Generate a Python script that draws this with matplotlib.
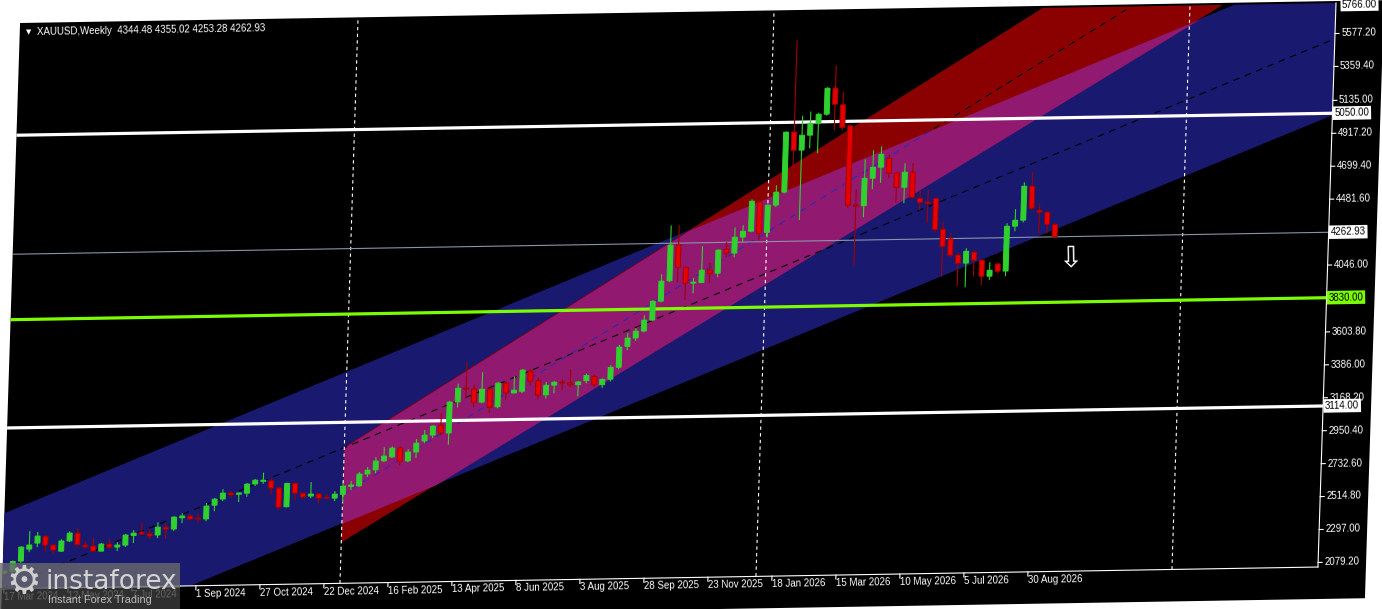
import matplotlib
matplotlib.use("Agg")
import matplotlib.pyplot as plt
import numpy as np
from matplotlib.patches import Polygon, Rectangle
from matplotlib.transforms import Affine2D, blended_transform_factory

plt.rcParams["font.family"] = ["Liberation Sans", "DejaVu Sans"]

# weekly XAUUSD candles, bar 0 = week of 1 Sep 2024
first_bar = -24
opens = [2155, 2165, 2232, 2310, 2349, 2394, 2334, 2293, 2360, 2410,
         2330, 2323, 2289, 2334, 2314, 2326, 2388, 2410, 2397, 2389,
         2440, 2427, 2500, 2511, 2497, 2490, 2580, 2620, 2659, 2650,
         2656, 2716, 2733, 2735, 2687, 2562, 2716, 2650, 2630, 2643,
         2620, 2614, 2638, 2690, 2692, 2770, 2796, 2855, 2880, 2938,
         2852, 2910, 2982, 3020, 3084, 3032, 3237, 3327, 3320, 3233,
         3318, 3200, 3356, 3290, 3300, 3432, 3368, 3274, 3337, 3356,
         3350, 3337, 3363, 3390, 3335, 3370, 3448, 3586, 3640, 3685,
         3757, 3881, 4015, 4250, 4100, 3997, 4000, 4081, 4060, 4217,
         4191, 4296, 4334, 4526, 4325, 4504, 4589, 4985, 4865, 4963,
         5041, 5100, 5271, 5160, 5020, 4495, 4490, 4671, 4743, 4800,
         4702, 4608, 4707, 4533, 4506, 4530, 4326, 4260, 4153, 4099,
         4170, 4117, 4010, 4090, 4042, 4338, 4377, 4601, 4440, 4427, 4344.48]
highs = [2176, 2236, 2330, 2429, 2422, 2396, 2338, 2372, 2423, 2445,
         2357, 2382, 2342, 2367, 2347, 2399, 2424, 2476, 2429, 2474,
         2467, 2510, 2531, 2524, 2529, 2595, 2627, 2685, 2672, 2661,
         2722, 2748, 2790, 2750, 2695, 2720, 2721, 2655, 2722, 2650,
         2641, 2660, 2712, 2724, 2783, 2815, 2880, 2945, 2950, 2950,
         2930, 2995, 3054, 3085, 3164, 3245, 3357, 3500, 3350, 3430,
         3323, 3365, 3365, 3400, 3446, 3445, 3390, 3358, 3365, 3374,
         3439, 3362, 3409, 3400, 3377, 3463, 3596, 3674, 3705, 3790,
         3888, 4058, 4380, 4382, 4110, 4030, 4240, 4127, 4218, 4264,
         4360, 4374, 4545, 4532, 4510, 4635, 4990, 5595, 5092, 5119,
         5110, 5278, 5420, 5243, 5030, 4600, 4797, 4856, 4881, 4827,
         4710, 4766, 4766, 4585, 4591, 4540, 4372, 4300, 4170, 4197,
         4184, 4120, 4102, 4095, 4358, 4450, 4627, 4693, 4487, 4432, 4355.02]
lows = [2146, 2160, 2220, 2290, 2322, 2290, 2277, 2287, 2352, 2320,
        2305, 2285, 2286, 2301, 2287, 2313, 2338, 2392, 2363, 2368,
        2361, 2414, 2465, 2484, 2464, 2475, 2540, 2606, 2625, 2598,
        2632, 2702, 2716, 2645, 2540, 2558, 2605, 2610, 2616, 2582,
        2607, 2594, 2586, 2665, 2685, 2750, 2773, 2846, 2872, 2825,
        2843, 2870, 2967, 3000, 3018, 2955, 3200, 3260, 3200, 3225,
        3160, 3190, 3245, 3285, 3287, 3340, 3245, 3248, 3283, 3305,
        3320, 3260, 3345, 3320, 3312, 3355, 3435, 3560, 3620, 3676,
        3750, 3873, 4005, 4004, 3886, 3930, 3996, 3996, 4033, 4164,
        4163, 4262, 4327, 4273, 4290, 4490, 4580, 4750, 4402, 4876,
        4842, 5090, 4992, 4990, 4475, 4097, 4414, 4598, 4640, 4669,
        4509, 4502, 4534, 4454, 4367, 4306, 4015, 4140, 3947, 3939,
        4011, 3951, 3985, 4029, 4008, 4304, 4362, 4441, 4288, 4288, 4253.28]
closes = [2165, 2230, 2324, 2337, 2395, 2335, 2301, 2360, 2411, 2335,
          2318, 2290, 2335, 2314, 2327, 2392, 2404, 2397, 2383, 2441,
          2427, 2506, 2512, 2491, 2491, 2575, 2620, 2659, 2646, 2658,
          2716, 2741, 2740, 2687, 2560, 2716, 2651, 2625, 2643, 2615,
          2614, 2640, 2692, 2698, 2770, 2795, 2854, 2886, 2938, 2851,
          2910, 2968, 3020, 3079, 3032, 3236, 3327, 3320, 3233, 3318,
          3198, 3356, 3290, 3308, 3440, 3366, 3273, 3337, 3356, 3350,
          3337, 3355, 3397, 3335, 3370, 3448, 3581, 3640, 3685, 3757,
          3881, 4013, 4250, 4103, 3997, 4003, 4081, 4057, 4212, 4191,
          4296, 4334, 4532, 4319, 4504, 4589, 4985, 4865, 4963, 5041,
          5100, 5271, 5165, 5011, 4495, 4487, 4671, 4743, 4828, 4702,
          4608, 4707, 4540, 4507, 4497, 4326, 4213, 4153, 4099, 4177,
          4117, 4010, 4049, 4042, 4338, 4377, 4601, 4455, 4427, 4347, 4262.93]

title = "XAUUSD,Weekly  4344.48 4355.02 4253.28 4262.93"

date_bars = list(range(-24, 105, 8))
date_labels = ["17 Mar 2024", "12 May 2024", "7 Jul 2024", "1 Sep 2024",
               "27 Oct 2024", "22 Dec 2024", "16 Feb 2025", "13 Apr 2025",
               "8 Jun 2025", "3 Aug 2025", "28 Sep 2025", "23 Nov 2025",
               "18 Jan 2026", "15 Mar 2026", "10 May 2026", "5 Jul 2026",
               "30 Aug 2026"]

price_ticks = [5577.20, 5359.40, 5135.00, 4917.20, 4699.40, 4481.60, 4046.00,
               3603.80, 3386.00, 3168.20, 2950.40, 2732.60, 2514.80, 2297.00,
               2079.20]
top_price = 5766.00
levels = [5050.00, 3830.00, 3114.00]
bid = 4262.93
separators = [18, 70, 122]          # yearly period separators
arrow_bar, arrow_price = 108, 4121

# channel borders: bar index at both ends, upper and lower price at both ends
blue_bars = [-24.25, 140.25]
blue_upper = [2550, 6049]
blue_lower = [1550, 5037]
red_bars = [18, 140.25]
red_upper = [2950, 6990]
red_lower = [2320, 6232]

# ---------------------------------------------------------------- layout
W, H = 1382, 609
L, T, PW, PH = 20, 25, 1316, 564      # plot box before the skew (pixels)
fig = plt.figure(figsize=(W / 100, H / 100), dpi=100)
fig.patch.set_facecolor("white")
ax = fig.add_axes([L / W, (H - T - PH) / H, PW / W, PH / H])
ax.set_xlim(-24.25, 140.25)
ax.set_ylim(2049, 5779)
ax.autoscale(False)
ax.axis("off")

# the screenshot is slightly sheared
skew = (Affine2D().translate(-L, -(H - T))
        + Affine2D.from_values(1, 0.0167, 0.032, 1, 0, 0)
        + Affine2D().translate(L, H - T))
td = ax.transData + skew
ta = ax.transAxes + skew
t_right = blended_transform_factory(ax.transAxes, ax.transData) + skew
t_bottom = blended_transform_factory(ax.transData, ax.transAxes) + skew
clip = Polygon([[0, 0], [1, 0], [1, 1], [0, 1]], closed=True, transform=ta)
ROT = 0.96


def put(artists, tr, clipped=True):
    for a in artists:
        a.set_transform(tr)
        if clipped:
            a.set_clip_path(clip)
            a.set_clip_box(None)
        else:
            a.set_clip_on(False)


# black chart window
bg = Polygon([[L, H - T + 2], [L + 1364, H - T + 2], [L + 1364, H - T - 596], [L, H - T - 596]],
             closed=True, facecolor="black", edgecolor="none", zorder=-5)
bg.set_transform(skew)
fig.add_artist(bg)

# channels (XOR-style colours where they overlap)
kb = np.linspace(blue_bars[0], blue_bars[1], 800)
bu = np.interp(kb, blue_bars, blue_upper)
bl = np.interp(kb, blue_bars, blue_lower)
put([ax.fill_between(kb, bl, bu, color="#191970", lw=0, zorder=1)], td)

kr = np.linspace(red_bars[0], red_bars[1], 600)
ru = np.interp(kr, red_bars, red_upper)
rl = np.interp(kr, red_bars, red_lower)
put([ax.fill_between(kr, rl, ru, color="#8b0000", lw=0, zorder=1)], td)
bu_r = np.interp(kr, blue_bars, blue_upper)
bl_r = np.interp(kr, blue_bars, blue_lower)
ov_top = np.minimum(ru, bu_r)
ov_bot = np.maximum(rl, bl_r)
put([ax.fill_between(kr, ov_bot, ov_top, where=ov_top > ov_bot, interpolate=True,
                     color="#921970", lw=0, zorder=1.1)], td)

# dashed centre lines
put(ax.plot(kb, (bu + bl) / 2, color="black", lw=0.8, ls=(0, (6, 5)), zorder=1.5), td)
rc = (ru + rl) / 2
inside = rc < bu_r
put(ax.plot(kr[inside], rc[inside], color="#2a2ab0", lw=0.8, ls=(0, (6, 5)), zorder=1.5), td)
put(ax.plot(kr[~inside], rc[~inside], color="black", lw=0.8, ls=(0, (6, 5)), zorder=1.5), td)

# period separators
for s in separators:
    put(ax.plot([s, s], [0, 1], color="white", lw=0.8, ls=(0, (3, 3)), zorder=2), t_bottom)

# horizontal levels
level_colors = ["white", "#7cfc00", "white"]
for lv, c in zip(levels, level_colors):
    put(ax.plot([0, 1], [lv, lv], color=c, lw=2.3, zorder=2), t_right)
put(ax.plot([0, 1], [bid, bid], color="#8795a8", lw=0.8, zorder=2), t_right)

# candles
o = np.array(opens)
c = np.array(closes)
bars = np.arange(first_bar, first_bar + len(o))
up = c >= o
wick_col = np.where(up, "#2fd12f", "#a40000")
body_col = np.where(up, "#2fd12f", "#e80000")
edge_col = np.where(up, "#2fd12f", "#a40000")
put([ax.vlines(bars, lows, highs, colors=wick_col, lw=0.8, zorder=3)], td)
body = ax.bar(bars, np.abs(c - o), bottom=np.minimum(o, c), width=0.62,
              color=body_col, edgecolor=edge_col, linewidth=0.7, zorder=4)
put(body.patches, td)

# arrow object
ax.text(arrow_bar, arrow_price, "\u21e9", transform=td, color="white", fontsize=21,
        ha="center", va="center", family="DejaVu Sans", rotation=ROT, zorder=5)

# frame lines
put(ax.plot([1, 1], [0, 1], color="white", lw=0.8, zorder=6), ta, clipped=False)
put(ax.plot([0, 1], [0, 0], color="white", lw=0.8, zorder=6), ta, clipped=False)

# price axis
tick_len = 4 / PW
for p in price_ticks:
    put(ax.plot([1, 1 + tick_len], [p, p], color="white", lw=0.8), t_right, clipped=False)
    ax.text(1 + 6 / PW, p, f"{p:.2f}", transform=t_right, color="white", fontsize=7,
            ha="left", va="center", rotation=ROT, rotation_mode="anchor")
ax.text(1 + 6 / PW, top_price, f"{top_price:.2f}", transform=t_right, color="black",
        fontsize=7, ha="left", va="center", rotation=ROT, rotation_mode="anchor",
        bbox=dict(boxstyle="square,pad=0.15", fc="white", ec="none"))
box_colors = ["white", "#7cfc00", "white"]
for lv, bc in zip(levels + [bid], box_colors + ["white"]):
    ax.text(1 + 2 / PW, lv, f"{lv:.2f}", transform=t_right, color="black", fontsize=7,
            ha="left", va="center", rotation=ROT, rotation_mode="anchor", zorder=7,
            bbox=dict(boxstyle="square,pad=0.18", fc=bc, ec="none"))

# time axis
for b, lab in zip(date_bars, date_labels):
    put(ax.plot([b, b], [0, -4 / PH], color="white", lw=0.8), t_bottom, clipped=False)
    ax.text(b, -8 / PH, lab, transform=t_bottom, color="white", fontsize=7,
            ha="left", va="center", rotation=ROT, rotation_mode="anchor")

# title
ax.text(6 / PW, 1 - 7 / PH, "\u25bc", transform=ta, color="white", fontsize=5,
        ha="left", va="center", family="DejaVu Sans", rotation=ROT, rotation_mode="anchor")
ax.text(17 / PW, 1 - 7 / PH, title, transform=ta, color="white", fontsize=7,
        ha="left", va="center", rotation=ROT, rotation_mode="anchor")

# watermark
fig.add_artist(Rectangle((0, 0), 180 / W, 21 / H, transform=fig.transFigure,
                         facecolor="#3c3c3c", alpha=0.8, edgecolor="none", zorder=8))
fig.add_artist(Rectangle((0, 21 / H), 180 / W, 25 / H, transform=fig.transFigure,
                         facecolor="#6a6a6e", alpha=0.8, edgecolor="none", zorder=8))
fig.text(24 / W, 1 - 582 / H, "\u2699", color="#cfcfcf", fontsize=28, ha="center",
         va="center", family="DejaVu Sans", zorder=9)
fig.text(46 / W, 1 - 589 / H, "instaforex", color="#d4d4d4", fontsize=19,
         ha="left", va="baseline", family="DejaVu Sans", zorder=9)
fig.text(48 / W, 1 - 600 / H, "Instant Forex Trading", color="#bdbdbd", fontsize=7.8,
         ha="left", va="center", zorder=9)

fig.savefig("out.png", dpi=100, facecolor="white")
